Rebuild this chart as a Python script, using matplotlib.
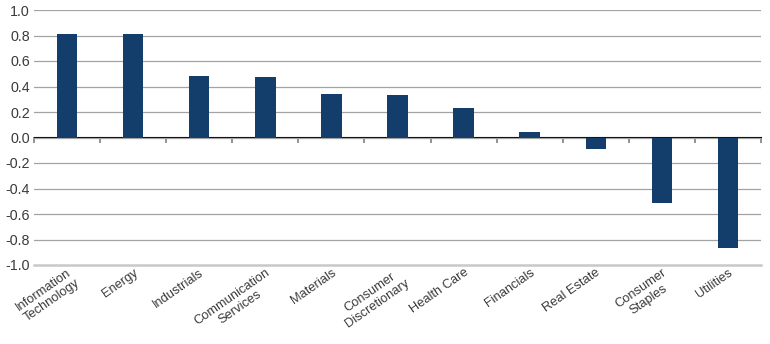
import numpy as np
import matplotlib
matplotlib.use('Agg')
import matplotlib.pyplot as plt

sectors = ['Information\nTechnology', 'Energy', 'Industrials', 'Communication\nServices',
           'Materials', 'Consumer\nDiscretionary', 'Health Care', 'Financials',
           'Real Estate', 'Consumer\nStaples', 'Utilities']
values = [0.81, 0.81, 0.48, 0.475, 0.34, 0.33, 0.235, 0.04, -0.09, -0.51, -0.865]
yticks = [-1.0, -0.8, -0.6, -0.4, -0.2, 0.0, 0.2, 0.4, 0.6, 0.8, 1.0]

plt.rcParams['font.family'] = ['Liberation Sans', 'DejaVu Sans']
txt = '#3a3a3a'
grid_c = '#a3a3a3'

fig = plt.figure(figsize=(7.7, 3.44), dpi=100)
ax = fig.add_axes([34/770, 1-265/344, 727/770, 255/344])

x = np.arange(len(values))
ax.bar(x, values, width=0.31, color='#133d6a', zorder=3)

ax.set_xlim(-0.5, len(values)-0.5)
ax.set_ylim(-1.0, 1.0)
ax.set_yticks(yticks)
ax.set_yticklabels(['%.1f' % v for v in yticks], color=txt, fontsize=10.3)
ax.yaxis.grid(True, color=grid_c, linewidth=0.9, zorder=0)
ax.tick_params(axis='y', length=0, pad=3)
# bottom gridline is lighter and a bit thicker
gl = ax.yaxis.get_gridlines()[0]
gl.set_color('#c8c8c8')
gl.set_linewidth(1.8)
gl.set_clip_on(False)

for s in ['top', 'right', 'left', 'bottom']:
    ax.spines[s].set_visible(False)

ax.set_xticks(x)
ax.set_xticklabels(sectors, rotation=35, ha='right', va='top', rotation_mode='anchor',
                   multialignment='center', color=txt, fontsize=9.3, linespacing=1.15)
ax.tick_params(axis='x', length=0, pad=1)

# zero axis with category boundary ticks
sec = ax.secondary_xaxis(0.5)
sec.set_xticks(np.arange(-0.5, len(values), 1.0))
sec.set_xticklabels([])
sec.tick_params(axis='x', length=4, width=1.2, color='#808080', direction='in')
sec.spines['bottom'].set_color('#808080')
sec.spines['bottom'].set_linewidth(1.6)

fig.savefig('out.png', dpi=100)
